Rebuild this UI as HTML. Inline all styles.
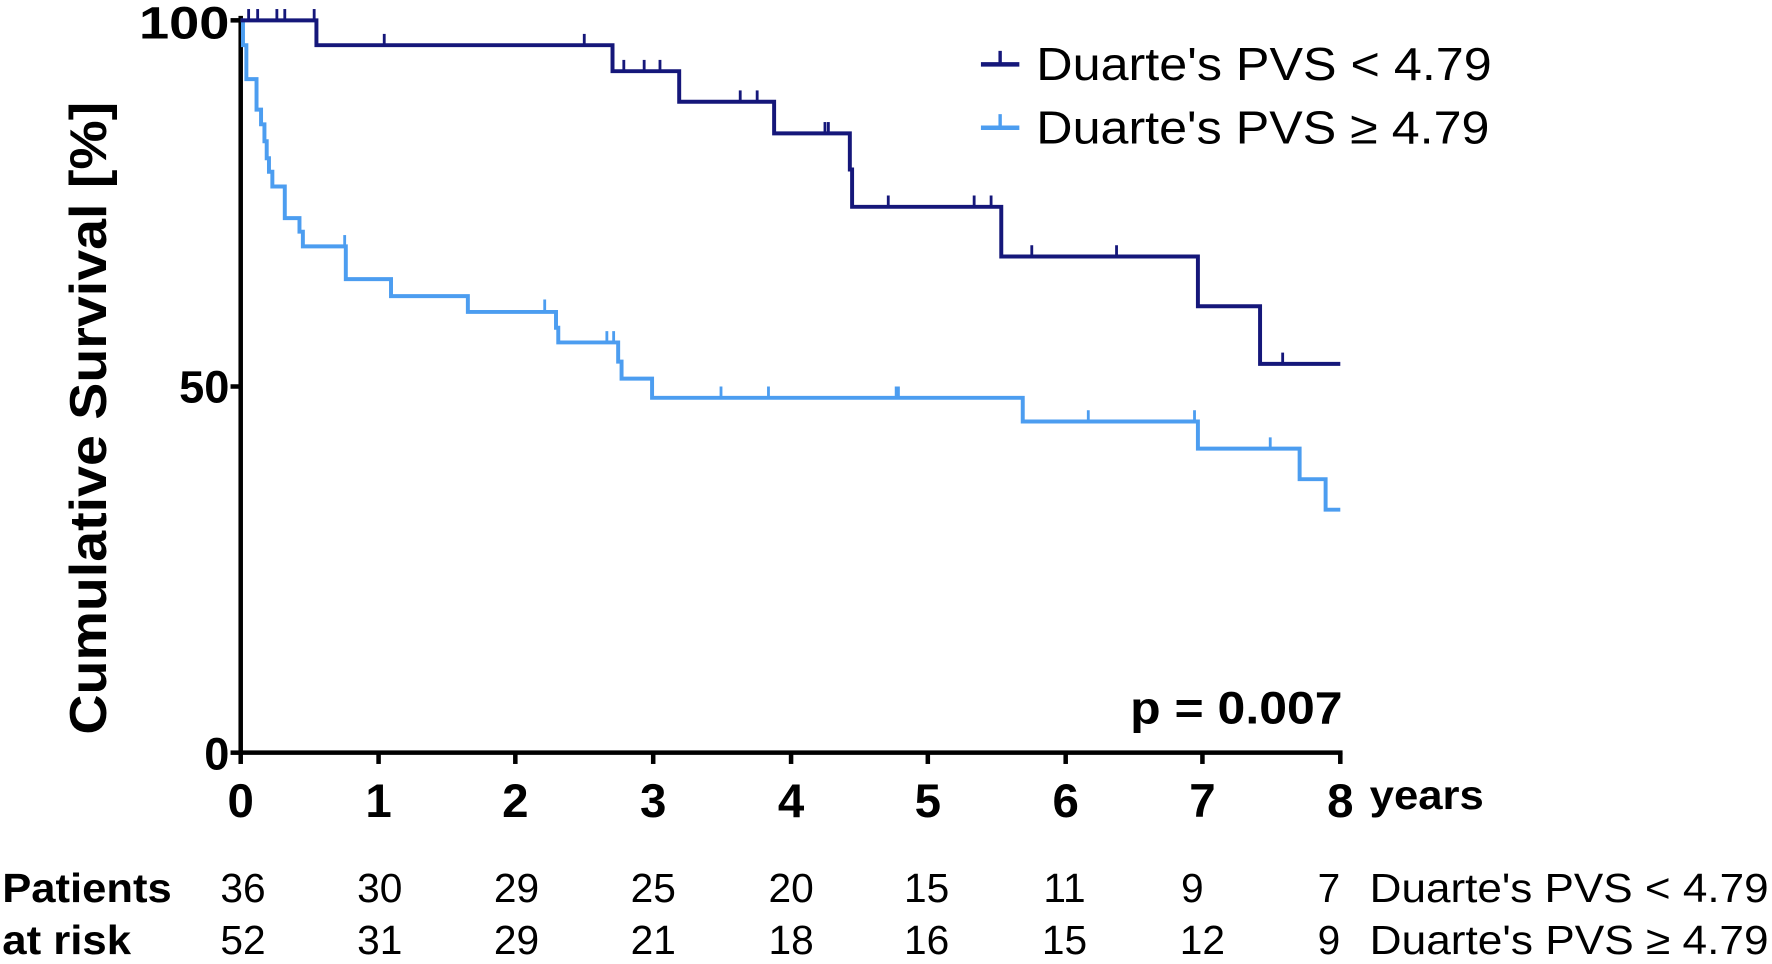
<!DOCTYPE html>
<html><head><meta charset="utf-8"><style>
html,body{margin:0;padding:0;background:#fff;}
svg{display:block;}
text{font-family:"Liberation Sans",Arial,sans-serif;fill:#000;}
</style></head><body>
<svg width="1772" height="964" viewBox="0 0 1568 853" preserveAspectRatio="none" xmlns="http://www.w3.org/2000/svg">
<g stroke="#000" stroke-width="4" fill="none">
<line x1="213" y1="14" x2="213" y2="668"/>
<line x1="211" y1="666" x2="1188" y2="666"/>
<line x1="204" y1="18" x2="213" y2="18"/>
<line x1="204" y1="342" x2="213" y2="342"/>
<line x1="204" y1="666" x2="213" y2="666"/>
<g>
<line x1="213" y1="666" x2="213" y2="676"/><line x1="335" y1="666" x2="335" y2="676"/><line x1="456" y1="666" x2="456" y2="676"/><line x1="578" y1="666" x2="578" y2="676"/><line x1="700" y1="666" x2="700" y2="676"/><line x1="821" y1="666" x2="821" y2="676"/><line x1="943" y1="666" x2="943" y2="676"/><line x1="1064" y1="666" x2="1064" y2="676"/><line x1="1186" y1="666" x2="1186" y2="676"/>
</g>
</g>
<polyline fill="none" stroke="#4c9df0" stroke-width="3.5" points="213,18 215,18 215,40 218,40 218,70 227,70 227,97 231,97 231,110 234,110 234,125 236,125 236,140 238,140 238,152 241,152 241,165 252,165 252,193 265,193 265,205 268,205 268,218 306,218 306,247 346,247 346,262 414,262 414,276 492,276 492,290 494,290 494,303 547,303 547,320 550,320 550,335 577,335 577,352 905,352 905,373 1060,373 1060,397 1150,397 1150,424 1173,424 1173,451 1186,451"/>
<g stroke="#4c9df0" stroke-width="2.5">
<line x1="305" y1="208" x2="305" y2="218"/><line x1="482" y1="265" x2="482" y2="276"/><line x1="537" y1="293" x2="537" y2="303"/><line x1="543" y1="293" x2="543" y2="303"/><line x1="638" y1="342" x2="638" y2="352"/><line x1="680" y1="342" x2="680" y2="352"/><line x1="793" y1="342" x2="793" y2="352"/><line x1="795" y1="342" x2="795" y2="352"/><line x1="963" y1="363" x2="963" y2="373"/><line x1="1057" y1="363" x2="1057" y2="373"/><line x1="1124" y1="387" x2="1124" y2="397"/>
</g>
<polyline fill="none" stroke="#15177a" stroke-width="3.5" points="213,18 280,18 280,40 542,40 542,63 601,63 601,90 685,90 685,118 752,118 752,150 754,150 754,183 886,183 886,227 1060,227 1060,271 1115,271 1115,322 1186,322"/>
<g stroke="#15177a" stroke-width="2.5">
<line x1="220" y1="8" x2="220" y2="18"/><line x1="228" y1="8" x2="228" y2="18"/><line x1="245" y1="8" x2="245" y2="18"/><line x1="252" y1="8" x2="252" y2="18"/><line x1="278" y1="8" x2="278" y2="18"/>
<line x1="340" y1="30" x2="340" y2="40"/><line x1="517" y1="30" x2="517" y2="40"/>
<line x1="552" y1="53" x2="552" y2="63"/><line x1="570" y1="53" x2="570" y2="63"/><line x1="584" y1="53" x2="584" y2="63"/>
<line x1="655" y1="80" x2="655" y2="90"/><line x1="670" y1="80" x2="670" y2="90"/>
<line x1="730" y1="108" x2="730" y2="118"/><line x1="733" y1="108" x2="733" y2="118"/>
<line x1="786" y1="173" x2="786" y2="183"/><line x1="862" y1="173" x2="862" y2="183"/><line x1="877" y1="173" x2="877" y2="183"/>
<line x1="913" y1="217" x2="913" y2="227"/><line x1="988" y1="217" x2="988" y2="227"/>
<line x1="1135" y1="312" x2="1135" y2="322"/>
</g>
<g font-weight="bold" font-size="40" text-anchor="end">
<text x="203" y="34" textLength="80" lengthAdjust="spacingAndGlyphs">100</text><text x="203" y="356">50</text><text x="203" y="681">0</text>
</g>
<g font-weight="bold" font-size="42" text-anchor="middle">
<text x="213" y="723">0</text><text x="335" y="723">1</text><text x="456" y="723">2</text><text x="578" y="723">3</text><text x="700" y="723">4</text><text x="821" y="723">5</text><text x="943" y="723">6</text><text x="1064" y="723">7</text><text x="1186" y="723">8</text>
</g>
<text x="1212" y="716" font-weight="bold" font-size="36" textLength="101" lengthAdjust="spacingAndGlyphs">years</text>
<text transform="translate(94,370) rotate(-90)" font-weight="bold" font-size="46" text-anchor="middle" textLength="560" lengthAdjust="spacingAndGlyphs">Cumulative Survival [%]</text>
<text x="1000" y="640" font-weight="bold" font-size="40" textLength="188" lengthAdjust="spacingAndGlyphs">p = 0.007</text>
<line x1="868" y1="57" x2="902" y2="57" stroke="#15177a" stroke-width="4"/><line x1="885" y1="45" x2="885" y2="57" stroke="#15177a" stroke-width="3"/>
<text x="917" y="71" font-size="41" textLength="403" lengthAdjust="spacingAndGlyphs">Duarte's PVS &lt; 4.79</text>
<line x1="868" y1="113" x2="902" y2="113" stroke="#4c9df0" stroke-width="4"/><line x1="885" y1="101" x2="885" y2="113" stroke="#4c9df0" stroke-width="3"/>
<text x="917" y="127" font-size="41" textLength="401" lengthAdjust="spacingAndGlyphs">Duarte's PVS ≥ 4.79</text>
<g font-size="36">
<text x="2" y="798" font-weight="bold" textLength="150" lengthAdjust="spacingAndGlyphs">Patients</text>
<text x="2" y="844" font-weight="bold" textLength="114" lengthAdjust="spacingAndGlyphs">at risk</text>
<g text-anchor="middle">
<text x="215" y="798">36</text><text x="336" y="798">30</text><text x="457" y="798">29</text><text x="578" y="798">25</text><text x="700" y="798">20</text><text x="820" y="798">15</text><text x="942" y="798">11</text><text x="1055" y="798">9</text><text x="1176" y="798">7</text>
<text x="215" y="844">52</text><text x="336" y="844">31</text><text x="457" y="844">29</text><text x="578" y="844">21</text><text x="700" y="844">18</text><text x="820" y="844">16</text><text x="942" y="844">15</text><text x="1064" y="844">12</text><text x="1176" y="844">9</text>
</g>
<text x="1212" y="798" textLength="353" lengthAdjust="spacingAndGlyphs">Duarte's PVS &lt; 4.79</text>
<text x="1212" y="844" textLength="353" lengthAdjust="spacingAndGlyphs">Duarte's PVS ≥ 4.79</text>
</g>
</svg>
</body></html>
